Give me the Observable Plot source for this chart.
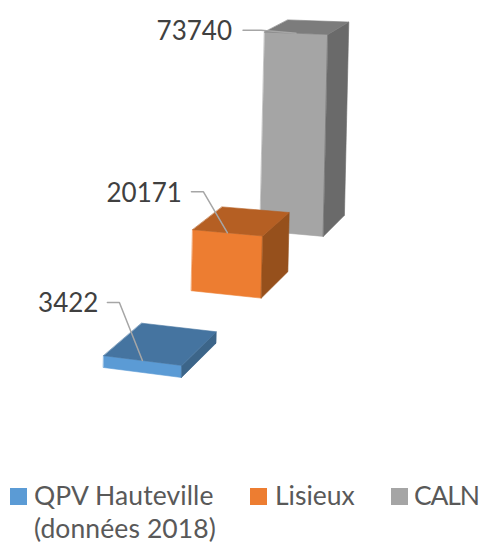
<!DOCTYPE html>
<html>
<head>
<meta charset="utf-8">
<script src="https://cdn.jsdelivr.net/npm/d3@7"></script>
<script src="https://cdn.jsdelivr.net/npm/@observablehq/plot@0.6"></script>
<style>
  html, body { margin: 0; padding: 0; background: #fff; overflow: hidden; }
  #chart svg { display: block; }
  #legend { position: relative; width: 479px; height: 63px; font-family: Lato, sans-serif; font-size: 26.5px; line-height: 33px; color: #595959; }
  #legend .swatch { position: absolute; top: 8px; width: 17px; height: 17px; }
  #legend .name { position: absolute; top: -1.5px; white-space: normal; }
</style>
</head>
<body>
<div id="chart"></div>
<div id="legend"></div>
<script>
// Data
const categories = ["QPV Hauteville (données 2018)", "Lisieux", "CALN"];
const values = [3422, 20171, 73740];

// Colours: front, top and side faces of each column
const frontColors = ["#5b9bd5", "#ed7d31", "#a5a5a5"];
const topColors = ["#4574a0", "#b55f23", "#7c7c7c"];
const sideColors = ["#3c6589", "#96501c", "#6a6a6a"];

// Layout of the 3D scene
const seriesDepth = [0, 2.5, 5];      // where each column stands along the depth axis
const leaderElbow = [[-23, -58], [-24, -41], [-35, -3]];
const leaderTail = [12, 12, 18];
const labelGap = [9, 9.5, 11];
const legendSwatchX = [10, 250, 391];
const legendTextX = [34, 275, 414];
const legendSpacing = ["0.1px", "0", "-1.2px"];

// Perspective projection of the scene: a = across, b = depth, v = value
function project(a, b, v) {
  const w = 1 + 0.056 * b - 0.02 * a;
  return {
    x: (103 + 74.4 * a + 45.87 * b + 7.8e-5 * v) / w,
    y: (367 + 2.46 * a - 14.45 * b - 0.00345 * v) / w
  };
}

function quad(id, fill, corners) {
  return corners.map(([a, b, v]) => ({ face: id, fill, ...project(a, b, v) }));
}

// Back columns first so that nearer ones cover them
const order = [2, 1, 0];
const faces = order.flatMap((i) => {
  const b0 = seriesDepth[i], b1 = b0 + 1, v = values[i];
  return [
    ...quad(`front${i}`, frontColors[i], [[0, b0, 0], [1, b0, 0], [1, b0, v], [0, b0, v]]),
    ...quad(`side${i}`, sideColors[i], [[1, b0, 0], [1, b1, 0], [1, b1, v], [1, b0, v]]),
    ...quad(`top${i}`, topColors[i], [[0, b0, v], [1, b0, v], [1, b1, v], [0, b1, v]])
  ];
});

const leaders = values.flatMap((v, i) => {
  const end = project(0.5, seriesDepth[i], v);
  const [dx, dy] = leaderElbow[i];
  const elbow = { x: end.x + dx, y: end.y + dy };
  return [
    { id: i, x: elbow.x - leaderTail[i], y: elbow.y },
    { id: i, ...elbow },
    { id: i, ...end }
  ];
});

const labels = values.map((v, i) => {
  const start = leaders[i * 3];
  return { value: v, x: start.x - labelGap[i], y: start.y + 1.5 };
});

const chart = Plot.plot({
  width: 479,
  height: 480,
  margin: 0,
  x: { domain: [0, 479], range: [0, 479], axis: null },
  y: { domain: [0, 480], range: [0, 480], axis: null },
  color: { type: "identity" },
  style: { background: "#fff" },
  marks: [
    Plot.line(faces, {
      x: "x", y: "y", z: "face", fill: "fill", stroke: "fill",
      strokeWidth: 0.6, curve: "linear-closed"
    }),
    Plot.line(leaders, {
      x: "x", y: "y", z: "id", stroke: "#a6a6a6", strokeWidth: 1.5, curve: "linear"
    }),
    Plot.text(labels, {
      x: "x", y: "y", text: (d) => String(d.value), textAnchor: "end", lineAnchor: "middle",
      fill: "#404040", fontSize: 26, fontFamily: "Lato, sans-serif"
    })
  ]
});
document.getElementById("chart").append(chart);

const legend = document.getElementById("legend");
categories.forEach((name, i) => {
  const s = document.createElement("div");
  s.className = "swatch";
  s.style.left = legendSwatchX[i] + "px";
  s.style.background = frontColors[i];
  const t = document.createElement("div");
  t.className = "name";
  t.style.left = legendTextX[i] + "px";
  t.style.letterSpacing = legendSpacing[i];
  if (i === 0) t.style.width = "200px";
  t.textContent = name;
  legend.append(s, t);
});
</script>
</body>
</html>
